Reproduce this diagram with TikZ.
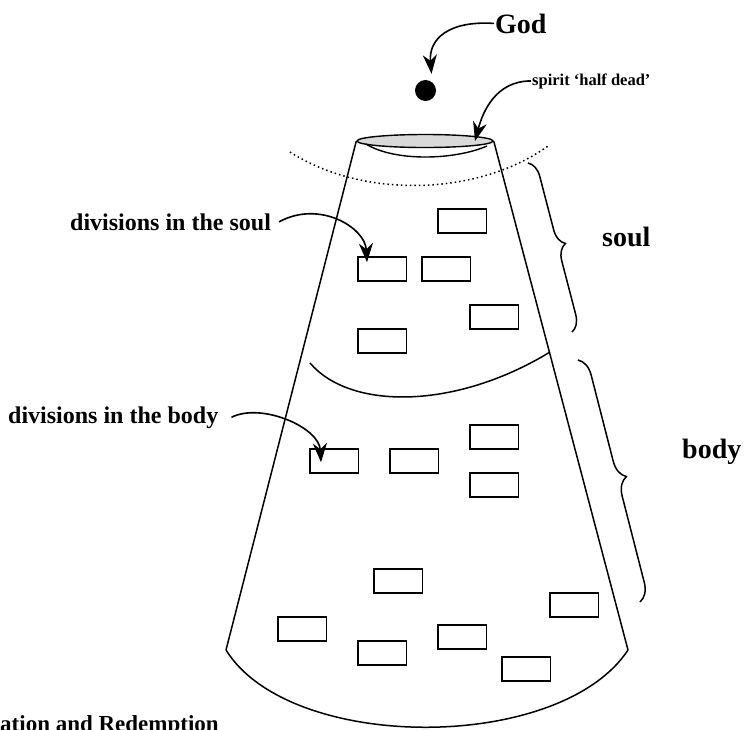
\documentclass[tikz,border=0pt]{standalone}
\usepackage{fontspec}
\setmainfont{Liberation Serif}
\usetikzlibrary{arrows.meta,positioning,calc,shapes.geometric,decorations.pathreplacing}

\begin{document}
\begin{tikzpicture}[
    x=1pt, y=-1pt,
    cell/.style={rectangle, draw, line width=1.5pt, minimum width=48.5pt, minimum height=24pt, inner sep=0pt},
    lbl/.style={font=\bfseries\fontsize{24}{28}\selectfont, inner sep=1pt},
    biglbl/.style={font=\bfseries\fontsize{28}{32}\selectfont, inner sep=1pt},
    arrow/.style={-{Stealth[length=19pt, width=14pt, inset=6pt]}, line width=1.6pt},
    curlybrace/.style={decorate, decoration={brace, amplitude=#1}, line width=1.5pt},
    cone/.style={line width=1.5pt}
]
\useasboundingbox (0,0) rectangle (746,729);

% rim and outline of the cone
\node[ellipse, draw, line width=1.4pt, fill=gray!30, minimum width=136pt, minimum height=13pt, inner sep=0pt] (rim) at (425,141) {};
\coordinate (bl) at (226,650);
\coordinate (br) at (628,650);
\draw[cone] (rim.west) -- (bl);
\draw[cone] (rim.east) -- (br);
\draw[cone] (bl) .. controls (290,753) and (560,753) .. (br);
\draw[cone] (310,363) .. controls (350,410) and (455,410) .. (550,352);
\draw[line width=1.4pt] (366,144) .. controls (395,162) and (455,160) .. (487,146);
\draw[line width=1.5pt, dash pattern=on 1.5pt off 3pt] (290,152) .. controls (365,200) and (480,195) .. (548,146);

% the spirit
\node[circle, fill, minimum size=21pt, inner sep=0pt] (dot) at (425.5,90.5) {};

% labels
\node[biglbl, anchor=base west] (god) at (494,33) {God};
\node[font=\bfseries\fontsize{16.5}{19}\selectfont, inner sep=1pt, anchor=base west] (spirit) at (531,85) {spirit ‘half dead’};
\node[lbl, anchor=base west] (soullbl) at (69,230) {divisions in the soul};
\node[lbl, anchor=base west] (bodylbl) at (7,423) {divisions in the body};
\node[biglbl, anchor=base west] (soul) at (601,246) {soul};
\node[biglbl, anchor=base west] (body) at (681,458) {body};
\node[font=\bfseries\fontsize{23}{27}\selectfont, inner sep=0pt, anchor=base west] (title) at (0,731) {ation and Redemption};

% divisions
\foreach \n/\px/\py in {s1/462/221, s2/382/269, s3/446/269, s4/494/317, s5/382/341,
    b1/494/437, b2/334/461, b3/414/461, b4/494/485, b5/398/581, b6/574/605,
    b7/302/629, b8/462/637, b9/382/653, b10/526/669}
  \node[cell] (\n) at (\px,\py) {};

% pointers
\draw[arrow] (god.west) .. controls +(-45,-3) and +(-3,-35) .. ([xshift=6pt, yshift=6pt]dot.north);
\draw[arrow] (spirit.west) .. controls +(-35,0) and +(8,-30) .. ([xshift=50pt]rim.center);
\draw[arrow] ([xshift=7pt]soullbl.east) .. controls +(40,-22) and +(-2,-35) .. ([xshift=10pt, yshift=-6pt]s2.north west);
\draw[arrow] ([xshift=12pt]bodylbl.east) .. controls +(30,-15) and +(-2,-35) .. ([xshift=12pt, yshift=-14pt]b2.north west);

% braces
\draw[curlybrace=16pt] (528,163) -- (572,332);
\draw[curlybrace=18pt] (578,360) -- (640,602);
\end{tikzpicture}
\end{document}
